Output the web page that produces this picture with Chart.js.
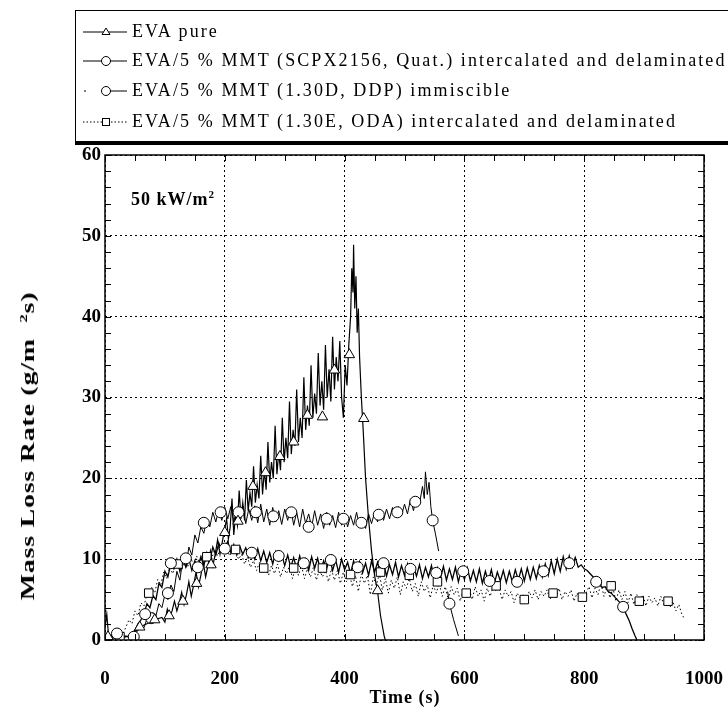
<!DOCTYPE html>
<html>
<head>
<meta charset="utf-8">
<script src="https://cdn.jsdelivr.net/npm/chart.js@4/dist/chart.umd.min.js"></script>
<style>
  html, body { margin: 0; padding: 0; background: #fff; }
  #wrap { position: relative; width: 728px; height: 708px; overflow: hidden; font-family: "Liberation Serif", "Times New Roman", serif; color: #000; }
  #chart { position: absolute; left: 0; top: 0; }
  .legend-box { position: absolute; left: 75px; top: 10px; width: 660px; height: 130px; border-top: 1.5px solid #000; border-left: 1.5px solid #000; border-bottom: 4px solid #000; box-sizing: content-box; }
  .legend-row { position: absolute; left: 83px; height: 20px; white-space: nowrap; }
  .legend-row svg { position: absolute; left: 0; top: 0; }
  .legend-row span { position: absolute; left: 49px; top: -1px; font-size: 18px; line-height: 20px; letter-spacing: 2.1px; }
  .ytitle { position: absolute; left: 28px; top: 446px; transform: translate(-50%, -50%) rotate(-90deg) scaleX(1.55); white-space: nowrap; font-weight: bold; font-size: 18px; letter-spacing: 0.5px; }
  .xtitle { position: absolute; left: 405px; top: 697px; transform: translate(-50%, -50%); white-space: nowrap; font-weight: bold; font-size: 18px; letter-spacing: 1px; }
  .note { position: absolute; left: 131px; top: 188px; white-space: nowrap; font-weight: bold; font-size: 18px; letter-spacing: 1px; }
  sup { font-size: 11px; }
</style>
</head>
<body>
<div id="wrap">
  <canvas id="chart" width="728" height="708"></canvas>
  <div class="legend-box"></div>
  <div id="legend"></div>
  <div class="ytitle">Mass Loss Rate (g/m<span style="display:inline-block;width:10px"></span><sup>2</sup>s)</div>
  <div class="xtitle">Time (s)</div>
  <div class="note">50 kW/m<sup>2</sup></div>
</div>
<script>
const seriesNames = [
  "EVA pure",
  "EVA/5 % MMT (SCPX2156, Quat.) intercalated and delaminated",
  "EVA/5 % MMT (1.30D, DDP) immiscible",
  "EVA/5 % MMT (1.30E, ODA) intercalated and delaminated"
];

const xTickValues = [0, 200, 400, 600, 800, 1000];
const yTickValues = [0, 10, 20, 30, 40, 50, 60];
const xMinorTicks = [50, 100, 150, 250, 300, 350, 450, 500, 550, 650, 700, 750, 850, 900, 950];
const yMinorTicks = [2, 4, 6, 8, 12, 14, 16, 18, 22, 24, 26, 28, 32, 34, 36, 38, 42, 44, 46, 48, 52, 54, 56, 58];

// EVA pure
const evaTime = [0, 3, 6, 10, 20, 30, 40, 50, 58, 70, 83, 95,
  100, 104, 108, 112, 116, 120, 124, 128, 132, 136, 140, 144, 148, 152, 156, 160, 164, 168, 172, 176, 180, 184, 188, 192, 196, 200,
  203, 206, 209, 212, 215, 218, 221, 224, 227, 230, 233, 236, 239, 242, 245, 248, 251, 254, 257, 260, 263, 266, 269, 272, 275, 278,
  281, 284, 287, 290, 293, 296, 299, 302, 305, 308, 311, 314, 317, 320, 323, 326, 329, 332, 335, 338, 341, 344, 347, 350, 353, 356,
  359, 362, 365, 368, 371, 374, 377, 380, 383, 386, 389, 392, 395, 398, 401, 404, 407, 410, 412, 414, 415, 417, 419, 421, 423, 425,
  428, 431, 435, 440, 445, 450, 455, 460, 466, 468];
const evaRate = [1.5, 3.2, 0.5, 0.3, 0.2, 0.3, 0.5, 1.0, 1.6, 2.0, 2.5, 2.8,
  2.2, 3.8, 2.9, 3.6, 4.8, 3.6, 4.6, 5.9, 4.4, 5.6, 7.2, 5.4, 6.8, 8.4, 6.6, 8.0, 9.6, 7.8, 9.2, 11.0, 9.2, 10.6, 12.4, 10.6, 12.2, 13.8,
  15.0, 12.5, 14.0, 17.5, 13.0, 15.5, 14.2, 18.5, 15.0, 17.0, 14.8, 19.8, 16.0, 18.2, 16.5, 21.5, 17.0, 19.2, 17.5, 22.8, 18.0, 21.0, 18.6, 24.5, 19.5, 22.0,
  20.0, 26.5, 20.5, 23.2, 21.0, 27.5, 22.0, 25.0, 22.5, 29.5, 23.0, 26.0, 24.0, 31.0, 24.5, 27.5, 25.0, 32.5, 26.0, 29.0, 26.5, 34.0, 27.5, 30.5, 28.0, 35.5,
  29.0, 32.0, 28.5, 36.5, 30.0, 33.5, 29.5, 37.5, 31.0, 35.0, 32.0, 37.0, 30.0, 27.5, 34.0, 31.5, 36.5, 40.0, 46.0, 43.0, 48.9, 41.0, 45.0, 38.0, 41.0, 35.0,
  30.0, 26.0, 20.0, 15.0, 11.0, 8.0, 6.0, 3.0, 0.5, 0];
const evaMarkTime = [5, 58, 83, 107, 130, 153, 177, 200, 222, 247, 268, 292, 315, 338, 363, 383, 408, 432, 455];
const evaMarkRate = [0.4, 1.6, 2.5, 3.0, 4.8, 7.0, 9.3, 13.3, 14.7, 19.0, 20.7, 22.7, 24.5, 27.8, 27.6, 33.4, 35.3, 27.4, 6.1];

// SCPX2156
const scpxTime = [0, 10, 20, 30, 40, 50, 55, 60, 65, 70, 75, 80, 85, 90, 95, 100, 105, 110, 115, 120, 125, 130, 135, 140, 145, 150, 155, 160, 165, 170,
  175, 180, 185, 190, 195, 200, 205, 210, 215, 220, 225, 230, 235, 240, 245, 250, 255, 260, 265, 270, 275, 280, 285, 290, 295, 300, 305, 310, 315, 320,
  325, 330, 335, 340, 345, 350, 355, 360, 365, 370, 375, 380, 385, 390, 395, 400, 405, 410, 415, 420, 425, 430, 435, 440, 445, 450, 455, 460, 465, 470,
  475, 480, 485, 490, 495, 500, 505, 510, 515, 520, 525, 530, 535, 540, 545, 550, 555, 560, 565, 570, 575, 580, 585, 590, 595, 600, 605, 610, 615, 620,
  625, 630, 635, 640, 645, 650, 655, 660, 665, 670, 675, 680, 685, 690, 695, 700, 705, 710, 715, 720, 725, 730, 735, 740, 745, 750, 755, 760, 765, 770,
  775, 780, 785, 790, 795, 800, 805, 810, 815, 820, 825, 830, 835, 840, 845, 850, 855, 860, 865, 870, 875, 880, 885, 888];
const scpxRate = [0.3, 0.5, 0.8, 0.5, 0.4, 1.2, 2.0, 2.5, 3.2, 4.5, 4.0, 5.5, 5.0, 7.0, 6.5, 8.5, 7.8, 9.5, 8.8, 10.0, 8.5, 10.2, 9.0, 10.0, 8.6, 9.8, 9.0, 10.3, 9.2, 10.8,
  9.8, 11.5, 10.5, 12.0, 11.0, 11.5, 12.2, 10.8, 11.8, 10.5, 11.6, 10.6, 11.4, 10.2, 11.2, 10.0, 11.3, 9.8, 11.0, 9.6, 10.8, 9.4, 10.9, 9.8, 10.6, 9.2, 10.5, 9.0, 10.2, 8.8,
  10.4, 9.0, 10.0, 8.6, 10.3, 8.9, 10.1, 8.5, 9.8, 8.8, 10.2, 8.6, 9.9, 8.4, 10.0, 8.7, 9.6, 8.2, 9.8, 8.5, 9.7, 8.3, 9.5, 8.0, 9.8, 8.4, 9.6, 8.2, 9.5, 7.9,
  9.3, 8.1, 9.6, 7.8, 9.2, 8.0, 9.4, 7.7, 9.1, 7.9, 9.3, 7.6, 9.0, 7.8, 9.2, 7.5, 8.9, 7.6, 9.1, 7.4, 8.8, 7.5, 9.0, 7.2, 8.7, 7.5, 8.9, 7.3, 8.6, 7.2,
  8.8, 7.0, 8.5, 7.2, 8.7, 7.0, 8.4, 7.3, 8.6, 7.1, 8.5, 7.2, 8.7, 7.4, 8.8, 7.3, 8.9, 7.5, 9.0, 7.6, 9.2, 7.8, 9.4, 8.0, 9.8, 8.2, 10.0, 8.5, 10.3, 8.8,
  10.4, 9.0, 10.2, 9.0, 9.3, 8.8, 8.6, 8.2, 7.8, 7.2, 7.0, 6.5, 6.6, 6.0, 5.8, 5.4, 5.0, 4.6, 4.1, 3.2, 2.4, 1.4, 0.5, 0];
const scpxMarkTime = [20, 67, 110, 155, 200, 245, 290, 332, 377, 422, 465, 510, 553, 598, 642, 688, 732, 775, 820, 865];
const scpxMarkRate = [0.8, 3.2, 9.5, 9.0, 11.3, 10.8, 10.4, 9.5, 9.9, 9.0, 9.5, 8.8, 8.3, 8.5, 7.3, 7.2, 8.5, 9.5, 7.2, 4.1];

// 1.30D DDP
const ddpTime = [0, 10, 20, 30, 40, 48, 55, 60, 65, 70, 75, 80, 85, 90, 95, 100, 105, 110, 115, 120, 125, 130, 135, 140, 145, 150, 155, 160, 165, 170,
  175, 180, 185, 190, 195, 200, 205, 210, 215, 220, 225, 230, 235, 240, 245, 250, 255, 260, 265, 270, 275, 280, 285, 290, 295, 300, 305, 310, 315, 320,
  325, 330, 335, 340, 345, 350, 355, 360, 365, 370, 375, 380, 385, 390, 395, 400, 405, 410, 415, 420, 425, 430, 435, 440, 445, 450, 455, 460, 465, 470,
  475, 480, 485, 490, 495, 500, 505, 510, 515, 520, 525, 530, 533, 535, 538, 541, 544, 547, 552, 557, 565, 572, 575, 582, 590];
const ddpRate = [0.5, 0.6, 0.7, 0.5, 0.4, 0.5, 1.2, 1.8, 1.5, 2.6, 2.2, 3.4, 3.0, 4.5, 4.0, 5.6, 5.0, 6.8, 6.0, 8.5, 7.4, 10.0, 9.0, 11.5, 10.5, 13.0, 12.0, 14.0, 13.2, 15.0,
  14.0, 15.8, 14.6, 16.2, 14.8, 16.4, 15.0, 16.5, 14.6, 16.3, 15.0, 16.6, 14.4, 16.2, 14.8, 16.6, 14.5, 16.8, 14.6, 16.2, 14.2, 16.4, 14.6, 16.0, 14.3, 16.2, 14.8, 16.4, 14.2, 15.8,
  14.0, 16.2, 14.4, 15.6, 14.0, 16.0, 14.2, 15.6, 13.8, 15.8, 14.2, 15.4, 13.9, 15.8, 14.2, 15.6, 14.0, 15.4, 14.2, 15.8, 14.0, 15.2, 13.8, 15.6, 14.4, 15.8, 14.6, 16.0, 14.8, 16.2,
  15.0, 16.4, 15.2, 16.5, 15.4, 16.8, 15.6, 17.4, 16.0, 17.8, 16.8, 19.0, 17.5, 20.8, 18.0, 19.5, 16.5, 14.8, 13.0, 11.0, null, 6.0, 4.5, 2.5, 0.5];
const ddpMarkTime = [48, 77, 105, 135, 165, 193, 223, 252, 281, 311, 340, 370, 398, 428, 457, 488, 518, 547, 575];
const ddpMarkRate = [0.4, 2.7, 5.8, 10.1, 14.5, 15.8, 15.8, 15.8, 15.3, 15.8, 14.0, 15.0, 15.0, 14.5, 15.5, 15.8, 17.1, 14.8, 4.5];

// 1.30E ODA
const odaTime = [0, 10, 20, 25, 30, 35, 40, 45, 50, 55, 60, 65, 70, 73, 78, 83, 88, 93, 98, 103, 108, 113, 118, 122, 128, 133, 138, 143, 148, 153,
  158, 163, 168, 172, 178, 183, 188, 193, 198, 203, 208, 213, 218, 223, 228, 233, 238, 243, 248, 253, 258, 263, 268, 273, 278, 283, 288, 293, 298, 303,
  308, 313, 318, 323, 328, 333, 338, 343, 348, 353, 358, 363, 368, 373, 378, 383, 388, 393, 398, 403, 408, 413, 418, 423, 428, 433, 438, 443, 448, 453,
  458, 463, 468, 473, 478, 483, 488, 493, 498, 503, 508, 513, 518, 523, 528, 533, 538, 543, 548, 553, 558, 563, 568, 573, 578, 583, 588, 593, 598, 603,
  608, 613, 618, 623, 628, 633, 638, 643, 648, 653, 658, 663, 668, 673, 678, 683, 688, 693, 698, 703, 708, 713, 718, 723, 728, 733, 738, 743, 748, 753,
  758, 763, 768, 773, 778, 783, 788, 793, 798, 803, 808, 813, 818, 823, 828, 833, 838, 843, 848, 853, 858, 863, 868, 873, 878, 883, 888, 893, 898, 903,
  908, 913, 918, 923, 928, 933, 938, 943, 948, 953, 958, 963, 966];
const odaRate = [0.4, 0.5, 0.4, 0.4, 0.8, 1.6, 2.5, 2.0, 3.6, 3.0, 4.6, 4.2, 5.6, 5.8, 6.5, 5.8, 7.5, 6.8, 8.4, 7.6, 9.0, 8.2, 9.4, 9.4, 8.6, 10.0, 9.0, 10.2, 9.2, 10.4,
  9.4, 10.6, 9.6, 10.8, 10.0, 11.2, 10.4, 11.5, 10.6, 11.4, 10.4, 11.2, 11.0, 10.0, 10.6, 9.4, 10.2, 9.0, 9.8, 8.6, 9.6, 8.4, 9.4, 8.0, 9.2, 8.2, 9.4, 7.8, 9.0, 8.2,
  9.2, 7.6, 9.0, 8.0, 9.2, 7.6, 8.8, 7.8, 9.0, 7.4, 8.8, 7.8, 8.6, 7.2, 8.8, 7.4, 8.6, 7.0, 8.4, 7.2, 8.2, 6.6, 8.0, 6.0, 8.2, 7.0, 8.0, 5.6, 7.8, 6.8,
  8.2, 6.2, 7.6, 5.8, 7.4, 6.4, 7.8, 5.6, 7.2, 6.4, 7.6, 6.0, 7.0, 5.4, 7.2, 6.0, 6.8, 5.2, 6.8, 5.8, 7.0, 5.4, 6.6, 5.0, 6.6, 5.6, 6.4, 4.8, 6.2, 5.6,
  6.4, 5.0, 6.6, 5.4, 6.2, 4.8, 6.4, 5.4, 6.6, 6.0, 6.4, 5.0, 6.2, 5.4, 6.0, 4.6, 5.8, 5.2, 5.6, 4.6, 6.0, 5.2, 6.2, 5.0, 6.0, 5.4, 6.2, 5.0, 5.8, 5.2,
  6.4, 5.0, 6.0, 5.4, 6.2, 4.8, 5.8, 5.0, 5.6, 5.8, 6.6, 5.2, 6.4, 5.6, 7.0, 5.4, 6.6, 5.2, 6.4, 4.8, 6.2, 5.0, 6.0, 4.6, 5.8, 4.4, 5.6, 4.8, 5.6, 4.2,
  5.4, 4.6, 5.2, 4.2, 5.4, 4.4, 5.0, 4.0, 4.8, 3.6, 4.4, 3.2, 2.8];
const odaMarkTime = [25, 73, 122, 170, 218, 265, 315, 363, 410, 460, 508, 555, 603, 653, 700, 748, 797, 845, 892, 940];
const odaMarkRate = [0.4, 5.8, 9.4, 10.3, 11.2, 8.9, 8.9, 8.9, 8.1, 8.4, 8.0, 7.2, 5.8, 6.7, 5.0, 5.8, 5.3, 6.7, 4.8, 4.8];

const toPoints = (xs, ys) => xs.map((x, i) => ({ x, y: ys[i] }));

const PLOT = { left: 105, right: 704, top: 155, bottom: 640 };
const FONT = "'Liberation Serif', 'Times New Roman', serif";

Chart.defaults.font.family = FONT;
Chart.defaults.color = "#000";

function lineSet(label, xs, ys, width, dash) {
  return {
    label,
    data: toPoints(xs, ys),
    borderColor: "#000",
    borderWidth: width,
    borderDash: dash || [],
    pointRadius: 0,
    tension: 0,
    spanGaps: false,
    order: 2
  };
}

function markSet(label, xs, ys, style, radius) {
  return {
    label,
    data: toPoints(xs, ys),
    showLine: false,
    pointStyle: style,
    pointRadius: radius,
    pointBackgroundColor: "#fff",
    pointBorderColor: "#000",
    pointBorderWidth: 1,
    order: 1
  };
}

// inward minor ticks and the frame round the plot
const frameTicks = {
  id: "frameTicks",
  afterDatasetsDraw(chart) {
    const { ctx, chartArea: a, scales } = chart;
    const x = scales.x, y = scales.y;
    ctx.save();
    ctx.strokeStyle = "#000";
    ctx.lineWidth = 1;
    ctx.beginPath();
    xMinorTicks.concat(xTickValues).forEach((v) => {
      const px = Math.round(x.getPixelForValue(v)) + 0.5;
      ctx.moveTo(px, a.bottom); ctx.lineTo(px, a.bottom - 6);
      ctx.moveTo(px, a.top); ctx.lineTo(px, a.top + 6);
    });
    yMinorTicks.concat(yTickValues).forEach((v) => {
      const py = Math.round(y.getPixelForValue(v)) + 0.5;
      ctx.moveTo(a.left, py); ctx.lineTo(a.left + 6, py);
      ctx.moveTo(a.right, py); ctx.lineTo(a.right - 6, py);
    });
    ctx.stroke();
    ctx.lineWidth = 1.5;
    ctx.strokeRect(a.left, a.top, a.right - a.left, a.bottom - a.top);
    ctx.restore();
  }
};

new Chart(document.getElementById("chart"), {
  type: "line",
  data: {
    datasets: [
      lineSet(seriesNames[0], evaTime, evaRate, 1.2),
      lineSet(seriesNames[1], scpxTime, scpxRate, 1.3),
      lineSet(seriesNames[2], ddpTime, ddpRate, 1),
      lineSet(seriesNames[3], odaTime, odaRate, 1, [1.5, 2.5]),
      markSet(seriesNames[0], evaMarkTime, evaMarkRate, "triangle", 6),
      markSet(seriesNames[1], scpxMarkTime, scpxMarkRate, "circle", 5.5),
      markSet(seriesNames[2], ddpMarkTime, ddpMarkRate, "circle", 5.5),
      markSet(seriesNames[3], odaMarkTime, odaMarkRate, "rect", 6)
    ]
  },
  options: {
    responsive: false,
    animation: false,
    events: [],
    layout: {
      padding: { left: PLOT.left - 60, right: 728 - PLOT.right, top: PLOT.top, bottom: 0 }
    },
    plugins: {
      legend: { display: false },
      tooltip: { enabled: false }
    },
    scales: {
      x: {
        type: "linear",
        min: 0,
        max: 1000,
        afterBuildTicks(scale) { scale.ticks = xTickValues.map((v) => ({ value: v })); },
        afterFit(scale) {
          scale.height = 708 - PLOT.bottom;
          scale.paddingLeft = 0;
          scale.paddingRight = 0;
        },
        ticks: {
          font: { size: 19, weight: "bold" },
          padding: 28,
          maxRotation: 0,
          callback: (v) => String(v)
        },
        grid: { color: "#000", lineWidth: 1, drawTicks: false },
        border: { display: false, dash: [2, 3] }
      },
      y: {
        min: 0,
        max: 60,
        afterBuildTicks(scale) { scale.ticks = yTickValues.map((v) => ({ value: v })); },
        afterFit(scale) {
          scale.width = 60;
          scale.paddingTop = 0;
          scale.paddingBottom = 0;
        },
        ticks: {
          font: { size: 19, weight: "bold" },
          padding: 4,
          callback: (v) => String(v)
        },
        grid: { color: "#000", lineWidth: 1, drawTicks: false },
        border: { display: false, dash: [2, 3] }
      }
    }
  },
  plugins: [frameTicks]
});

// legend rows: sample line + marker, then the name
const legendRowsY = [22, 51, 81, 112];
const legendSamples = [
  '<line x1="0" y1="10" x2="44" y2="10" stroke="#000" stroke-width="1"/><polygon points="23,6 27,12.5 19,12.5" fill="#fff" stroke="#000" stroke-width="1"/>',
  '<line x1="0" y1="10" x2="44" y2="10" stroke="#000" stroke-width="1"/><circle cx="23" cy="10" r="4.5" fill="#fff" stroke="#000" stroke-width="1"/>',
  '<line x1="1" y1="10" x2="3" y2="10" stroke="#000" stroke-width="1"/><line x1="27" y1="10" x2="44" y2="10" stroke="#000" stroke-width="1"/><circle cx="23" cy="10" r="4.5" fill="#fff" stroke="#000" stroke-width="1"/>',
  '<line x1="0" y1="10" x2="44" y2="10" stroke="#000" stroke-width="1" stroke-dasharray="1.5 2"/><rect x="19.5" y="6.5" width="7" height="7" fill="#fff" stroke="#000" stroke-width="1"/>'
];
const legendEl = document.getElementById("legend");
seriesNames.forEach((name, i) => {
  const row = document.createElement("div");
  row.className = "legend-row";
  row.style.top = legendRowsY[i] + "px";
  row.innerHTML = '<svg width="46" height="20">' + legendSamples[i] + "</svg>";
  const span = document.createElement("span");
  span.textContent = name;
  row.appendChild(span);
  legendEl.appendChild(row);
});
</script>
</body>
</html>
